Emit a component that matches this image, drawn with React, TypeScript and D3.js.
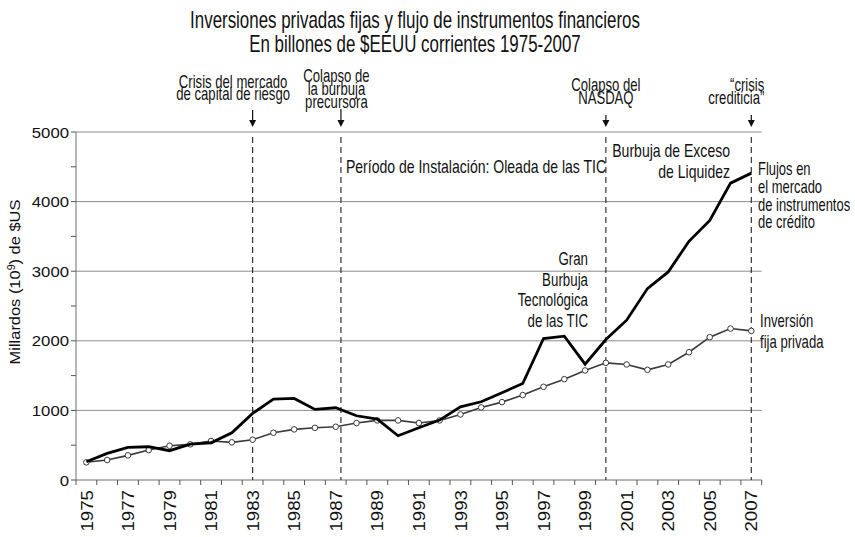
import React from "react";
import * as d3 from "d3";

const years = [1975, 1976, 1977, 1978, 1979, 1980, 1981, 1982, 1983, 1984, 1985, 1986, 1987, 1988, 1989, 1990, 1991, 1992, 1993, 1994, 1995, 1996, 1997, 1998, 1999, 2000, 2001, 2002, 2003, 2004, 2005, 2006, 2007];
const flujos = [263, 383, 469, 478, 421, 516, 535, 679, 957, 1162, 1172, 1014, 1038, 923, 875, 636, 750, 861, 1052, 1124, 1253, 1387, 2033, 2066, 1664, 2019, 2296, 2750, 2989, 3430, 3730, 4265, 4409];
const inversion = [254, 287, 354, 430, 492, 512, 560, 541, 579, 679, 727, 750, 765, 818, 856, 856, 818, 856, 942, 1043, 1119, 1220, 1339, 1449, 1574, 1683, 1660, 1583, 1660, 1836, 2052, 2176, 2142];
const yTicks = [0, 1000, 2000, 3000, 4000, 5000];
const yMinorTicks = [500, 1500, 2500, 3500, 4500];
const xLabelYears = [1975, 1977, 1979, 1981, 1983, 1985, 1987, 1989, 1991, 1993, 1995, 1997, 1999, 2001, 2003, 2005, 2007];
const eventYears = [1983, 1987.25, 2000, 2007];
const eventLabels = [
  ["Crisis del mercado", "de capital de riesgo"],
  ["Colapso de", "la burbuja", "precursora"],
  ["Colapso del", "NASDAQ"],
  ["\u201Ccrisis", "crediticia\u201D"],
];
const titleLines = [
  "Inversiones privadas fijas y flujo de instrumentos financieros",
  "En billones de $EEUU corrientes 1975-2007",
];
const periodLabel = "Período de Instalación: Oleada de las TIC";
const liquidezLabel = ["Burbuja de Exceso", "de Liquidez"];
const flujosLabel = ["Flujos en", "el mercado", "de instrumentos", "de crédito"];
const burbujaLabel = ["Gran", "Burbuja", "Tecnológica", "de las TIC"];
const inversionLabel = ["Inversión", "fija privada"];

const W = 855;
const H = 537;
const SANS = "'Liberation Sans', Arial, sans-serif";

function NText(props: { x: number; y: number; size: number; sx?: number; anchor?: string; children: React.ReactNode }) {
  return (
    <text
      transform={`translate(${props.x},${props.y}) scale(${props.sx ?? 0.74},1)`}
      textAnchor={(props.anchor || "start") as any}
      fontFamily={SANS}
      fontSize={props.size}
      fill="#111"
    >
      {props.children}
    </text>
  );
}

export default function App() {
  const x = d3.scaleLinear().domain([years[0] - 0.5, years[years.length - 1] + 0.5]).range([76, 761.7]);
  const y = d3.scaleLinear().domain([0, 5000]).range([480, 132]);
  const line = d3.line<number>().x((_, i) => x(years[i])).y((d) => y(d));
  const boundaries = d3.range(years.length + 1).map((i) => years[0] - 0.5 + i);

  const evLayout = [
    { anchor: "middle", dx: -19.5, base: [87.5, 100.3], a0: 110 },
    { anchor: "middle", dx: -4.5, base: [82, 95.2, 108.4], a0: 109 },
    { anchor: "middle", dx: 0, base: [91.3, 103.9], a0: 115 },
    { anchor: "end", dx: 13, base: [91.3, 103.9], a0: 115 },
  ];
  const arrowTip = 127;

  return (
    <svg width={W} height={H} style={{ position: "absolute", left: 0, top: 0, display: "block", background: "#fff" }}>
      {titleLines.map((t, i) => (
        <NText key={i} x={415} y={28.3 + i * 23.8} size={23} sx={0.735} anchor="middle">
          {t}
        </NText>
      ))}

      {yTicks.filter((t) => t > 0).map((t) => (
        <line key={t} x1={x.range()[0]} x2={x.range()[1]} y1={y(t)} y2={y(t)} stroke="#8c8c8c" strokeWidth={1} />
      ))}

      <line x1={x.range()[0]} x2={x.range()[0]} y1={y(0)} y2={y(5000)} stroke="#6e6e6e" strokeWidth={1} />
      {[...yTicks, ...yMinorTicks].map((t) => (
        <line key={"yt" + t} x1={x.range()[0] - 5} x2={x.range()[0]} y1={y(t)} y2={y(t)} stroke="#555" strokeWidth={1} />
      ))}
      {yTicks.map((t) => (
        <text key={"yl" + t} transform={`translate(69,${y(t)}) scale(1.08,1)`} dy="0.36em" textAnchor="end" fontFamily={SANS} fontSize={15.5} fill="#111">
          {t}
        </text>
      ))}
      <text transform={`translate(20,282) rotate(-90) scale(1.06,1)`} textAnchor="middle" fontFamily={SANS} fontSize={15.5} fill="#111">
        Millardos (10<tspan baselineShift="super" fontSize={10}>9</tspan>) de $US
      </text>

      <line x1={x.range()[0]} x2={x.range()[1]} y1={y(0)} y2={y(0)} stroke="#6e6e6e" strokeWidth={1} />
      {boundaries.map((b) => (
        <line key={"xt" + b} x1={x(b)} x2={x(b)} y1={y(0)} y2={y(0) + 5} stroke="#555" strokeWidth={1} />
      ))}
      {xLabelYears.map((yr) => (
        <text key={"xl" + yr} transform={`translate(${x(yr)},490) rotate(-90) scale(1.1,1)`} dy="0.36em" textAnchor="end" fontFamily={SANS} fontSize={17} fill="#111">
          {yr}
        </text>
      ))}

      {eventYears.map((ev, i) => {
        const ex = x(ev);
        const L = evLayout[i];
        return (
          <g key={"ev" + i}>
            <line x1={ex} x2={ex} y1={y(5000) + 5} y2={y(0)} stroke="#333" strokeWidth={1.2} strokeDasharray="6,4" />
            <line x1={ex} x2={ex} y1={L.a0} y2={arrowTip - 6} stroke="#111" strokeWidth={1.2} />
            <path d={`M${ex - 3.5},${arrowTip - 7}L${ex + 3.5},${arrowTip - 7}L${ex},${arrowTip}Z`} fill="#111" />
            {eventLabels[i].map((t, j) => (
              <NText key={j} x={ex + L.dx} y={L.base[j]} size={17.5} sx={0.75} anchor={L.anchor}>
                {t}
              </NText>
            ))}
          </g>
        );
      })}

      <NText x={x(eventYears[1]) + 5} y={173} size={18} sx={0.78}>
        {periodLabel}
      </NText>
      {liquidezLabel.map((t, j) => (
        <NText key={"lq" + j} x={730} y={157 + j * 21} size={18} sx={0.78} anchor="end">
          {t}
        </NText>
      ))}
      {flujosLabel.map((t, j) => (
        <NText key={"fl" + j} x={758} y={175 + j * 17.8} size={18} sx={0.72}>
          {t}
        </NText>
      ))}
      {burbujaLabel.map((t, j) => (
        <NText key={"bb" + j} x={588} y={265 + j * 20.7} size={18.5} sx={0.72} anchor="end">
          {t}
        </NText>
      ))}
      {inversionLabel.map((t, j) => (
        <NText key={"iv" + j} x={760} y={327 + j * 20.5} size={18} sx={0.73}>
          {t}
        </NText>
      ))}

      <path d={line(inversion) || ""} fill="none" stroke="#3a3a3a" strokeWidth={1.6} />
      {inversion.map((v, i) => (
        <circle key={"c" + i} cx={x(years[i])} cy={y(v)} r={2.8} fill="#fff" stroke="#3a3a3a" strokeWidth={1} />
      ))}
      <path d={line(flujos) || ""} fill="none" stroke="#000" strokeWidth={2.8} strokeLinejoin="miter" />
    </svg>
  );
}
